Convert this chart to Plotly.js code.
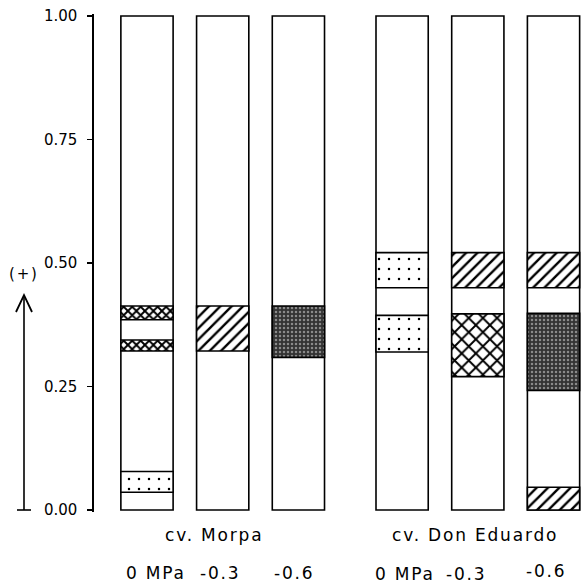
<!DOCTYPE html>
<html><head><meta charset="utf-8">
<script src="https://cdn.plot.ly/plotly-3.0.1.min.js"></script>
<style>html,body{margin:0;padding:0;background:#fff}#chart{width:581px;height:585px}
.annotation-text{letter-spacing:1.8px}</style>
</head><body><div id="chart"></div>
<script>
// ---- data ----
const cultivars = ["cv. Morpa", "cv. Don Eduardo"];
const treatments = ["0 MPa", "-0.3", "-0.6"];
const yTicks = [0, 0.25, 0.5, 0.75, 1];
const yTickLabels = ["0.00", "0.25", "0.50", "0.75", "1.00"];
// column index 0..5 : Morpa 0,-0.3,-0.6 ; Don Eduardo 0,-0.3,-0.6
const columns = [0, 1, 2, 3, 4, 5];
const columnLow = [0, 0, 0, 0, 0, 0];
const columnHigh = [1, 1, 1, 1, 1, 1];
const dotCol = [0, 3, 3];
const dotLow = [0.036, 0.450, 0.320];
const dotHigh = [0.078, 0.521, 0.394];
const meshCol = [0, 0];
const meshLow = [0.385, 0.322];
const meshHigh = [0.413, 0.344];
const hatchCol = [1, 4, 5, 5];
const hatchLow = [0.322, 0.450, 0.450, 0.000];
const hatchHigh = [0.413, 0.521, 0.521, 0.046];
const crossCol = [4];
const crossLow = [0.270];
const crossHigh = [0.397];
const darkCol = [2, 5];
const darkLow = [0.309, 0.242];
const darkHigh = [0.413, 0.398];

// ---- layout helpers ----
const GROUP_GAP = 3.37, BAR_W = 0.69;
const colX = c => Math.floor(c / 3) * GROUP_GAP + (c % 3);
const FONT = "DejaVu Sans, sans-serif";
const LINE = {color: "#000", width: 1.6};

function bandTrace(cols, lows, highs, pattern, color) {
  return {
    type: "bar", x: cols.map(colX), base: lows,
    y: highs.map((h, i) => h - lows[i]), width: BAR_W,
    marker: {color: color || "#fff", line: LINE, pattern: pattern},
    hoverinfo: "skip", showlegend: false
  };
}

const traces = [
  bandTrace(columns, columnLow, columnHigh, {shape: ""}),
  bandTrace(dotCol, dotLow, dotHigh, {shape: ".", bgcolor: "#fff", fgcolor: "#000", size: 10, solidity: 0.05}),
  bandTrace(meshCol, meshLow, meshHigh, {shape: "x", bgcolor: "#fff", fgcolor: "#000", size: 6, solidity: 0.55}),
  bandTrace(hatchCol, hatchLow, hatchHigh, {shape: "/", bgcolor: "#fff", fgcolor: "#000", size: 8, solidity: 0.3}),
  bandTrace(crossCol, crossLow, crossHigh, {shape: "x", bgcolor: "#fff", fgcolor: "#000", size: 10, solidity: 0.35}),
  bandTrace(darkCol, darkLow, darkHigh, {shape: ".", bgcolor: "#333", fgcolor: "#8a8a8a", size: 4, solidity: 0.3}, "#333")
];

// pixel -> paper helpers for decorative arrow
const L = 94, T = 14, PW = 487, PH = 498;
const px = v => (v - L) / PW;
const py = v => (T + PH - v) / PH;

const annotations = [];
const cvShift = [-9, -3];
cultivars.forEach((name, g) => {
  annotations.push({text: name, x: colX(g * 3 + 1), xref: "x", y: 0, yref: "paper",
    yanchor: "middle", yshift: -23, xshift: cvShift[g], showarrow: false,
    font: {family: FONT, size: 17, color: "#000"}});
});
const trShift = [9, -3, -4, 3, -12, -8];
const trY = [-61, -61, -61, -62, -62, -59];
columns.forEach(c => {
  annotations.push({text: treatments[c % 3], x: colX(c), xref: "x", y: 0, yref: "paper",
    yanchor: "middle", yshift: trY[c], xshift: trShift[c], showarrow: false,
    font: {family: FONT, size: 17, color: "#000"}});
});
annotations.push({text: "(+)", x: px(24), xref: "paper", y: py(274), yref: "paper",
  xanchor: "center", yanchor: "middle", showarrow: false,
  font: {family: FONT, size: 15, color: "#000"}});

const shapes = [
  {type: "line", xref: "paper", yref: "paper", x0: px(24), x1: px(24), y0: py(510), y1: py(296), line: {color: "#000", width: 1.6}},
  {type: "line", xref: "paper", yref: "paper", x0: px(17), x1: px(31), y0: py(510), y1: py(510), line: {color: "#000", width: 1.6}},
  {type: "path", xref: "paper", yref: "paper",
    path: `M ${px(16)} ${py(312)} L ${px(24)} ${py(295)} L ${px(32)} ${py(312)}`,
    line: {color: "#000", width: 1.8}}
];

const layout = {
  width: 581, height: 585,
  margin: {l: L, r: 0, t: T, b: 585 - T - PH, pad: 0},
  paper_bgcolor: "#fff", plot_bgcolor: "#fff",
  barmode: "overlay", showlegend: false,
  xaxis: {range: [-0.70, 5.733], visible: false, fixedrange: true},
  yaxis: {range: [-0.004, 1.004], tickvals: yTicks, ticktext: yTickLabels,
    showgrid: false, zeroline: false, showline: true, linecolor: "#000", linewidth: 1.6,
    ticks: "outside", ticklen: 5, tickwidth: 1.6, tickcolor: "#000",
    ticklabelstandoff: 7,
    tickfont: {family: FONT, size: 15, color: "#000"}, fixedrange: true},
  annotations: annotations, shapes: shapes
};

Plotly.newPlot("chart", traces, layout, {displayModeBar: false, staticPlot: true});
</script></body></html>
